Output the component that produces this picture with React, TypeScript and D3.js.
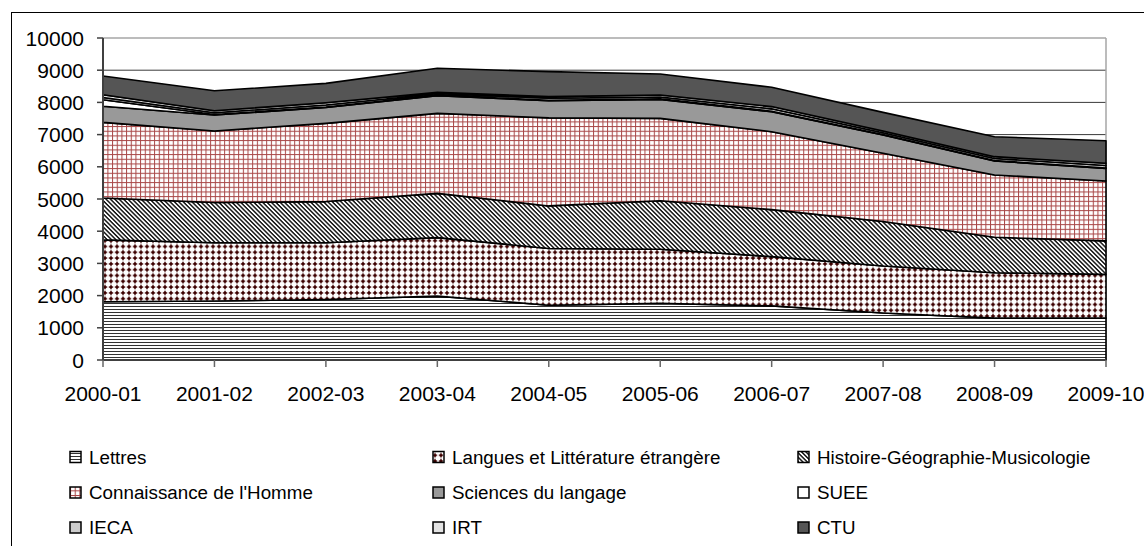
import React from "react";
import * as d3 from "d3";

const years = ["2000-01", "2001-02", "2002-03", "2003-04", "2004-05", "2005-06", "2006-07", "2007-08", "2008-09", "2009-10"];

const lettres = [1810, 1830, 1880, 1985, 1700, 1760, 1680, 1460, 1300, 1300];
const langues = [1920, 1810, 1760, 1815, 1765, 1680, 1530, 1460, 1410, 1360];
const histoire = [1300, 1250, 1280, 1375, 1320, 1505, 1460, 1380, 1100, 1040];
const connaissance = [2350, 2220, 2430, 2485, 2735, 2560, 2420, 2120, 1935, 1860];
const sciences = [500, 500, 490, 550, 530, 590, 620, 570, 435, 390];
const suee = [200, 15, 15, 15, 15, 15, 15, 15, 15, 15];
const ieca = [70, 55, 65, 45, 65, 60, 75, 55, 65, 75];
const irt = [90, 60, 70, 40, 50, 60, 70, 50, 55, 70];
const ctu = [580, 620, 600, 750, 775, 650, 600, 580, 620, 700];

const seriesNames = [
  "Lettres",
  "Langues et Littérature étrangère",
  "Histoire-Géographie-Musicologie",
  "Connaissance de l'Homme",
  "Sciences du langage",
  "SUEE",
  "IECA",
  "IRT",
  "CTU",
];
const seriesValues = [lettres, langues, histoire, connaissance, sciences, suee, ieca, irt, ctu];
const yTicks = [0, 1000, 2000, 3000, 4000, 5000, 6000, 7000, 8000, 9000, 10000];

const fills = [
  "url(#pLettres)",
  "url(#pLangues)",
  "url(#pHistoire)",
  "url(#pConn)",
  "#999999",
  "#ffffff",
  "#cccccc",
  "#e3e3e3",
  "#555555",
];

const FONT = "'Liberation Sans', Arial, Helvetica, sans-serif";

export default function App() {
  const W = 1144;
  const H = 546;
  const left = 103;
  const right = 1106;
  const top = 38;
  const bottom = 360;

  const x = d3.scalePoint<string>().domain(years).range([left, right]).padding(0);
  const y = d3.scaleLinear().domain([0, 10000]).range([bottom, top]);

  const rows = years.map((yr, i) => {
    const r: Record<string, number | string> = { year: yr };
    seriesNames.forEach((n, k) => (r[n] = seriesValues[k][i]));
    return r;
  });
  const stacked = d3.stack<any>().keys(seriesNames)(rows as any);
  const area = d3
    .area<any>()
    .x((d: any) => x(d.data.year) as number)
    .y0((d: any) => y(d[0]))
    .y1((d: any) => y(d[1]));

  const legendCols = [70, 433, 798];
  const legendRows = [457, 492.5, 527.5];

  return (
    <svg
      width={W}
      height={H}
      style={{ position: "absolute", left: 0, top: 0, background: "#fff" }}
      fontFamily={FONT}
    >
      <defs>
        <pattern id="pLettres" patternUnits="userSpaceOnUse" width={8} height={3}>
          <rect width={8} height={3} fill="#fff" />
          <rect y={0} width={8} height={1} fill="#333" />
        </pattern>
        <pattern id="pLangues" patternUnits="userSpaceOnUse" width={6} height={5.8}>
          <rect width={6} height={5.8} fill="#fff" />
          <path d="M3,0.9 L5,2.9 L3,4.9 L1,2.9 Z" fill="#3c0000" />
          <rect x={2.5} y={0.6} width={1} height={4.6} fill="#3c0000" />
          <rect x={0.7} y={2.4} width={4.6} height={1} fill="#3c0000" />
        </pattern>
        <pattern
          id="pHistoire"
          patternUnits="userSpaceOnUse"
          width={3.1}
          height={3.1}
          patternTransform="rotate(45)"
        >
          <rect width={3.1} height={3.1} fill="#fff" />
          <rect width={3.1} height={1.45} fill="#111" />
        </pattern>
        <pattern id="pConn" patternUnits="userSpaceOnUse" width={4.67} height={4.67}>
          <rect width={4.67} height={4.67} fill="#fff" />
          <rect x={0} y={0} width={4.67} height={1} fill="#a84646" />
          <rect x={0} y={0} width={1} height={4.67} fill="#a84646" />
        </pattern>
      </defs>

      {/* outer frame */}
      <rect x={11.5} y={12.5} width={1200} height={600} fill="#fff" stroke="#000" strokeWidth={1} />

      {/* gridlines */}
      {yTicks
        .filter((t) => t > 0 && t < 10000)
        .map((t) => (
          <line key={t} x1={left} x2={right} y1={y(t)} y2={y(t)} stroke="#3a3a3a" strokeWidth={1} />
        ))}
      {/* plot border (top and right) */}
      <line x1={left} x2={right} y1={y(10000)} y2={y(10000)} stroke="#a6a6a6" strokeWidth={1.5} />
      <line x1={right} x2={right} y1={top} y2={bottom} stroke="#a6a6a6" strokeWidth={1.5} />

      {/* areas */}
      {stacked.map((s, k) => (
        <path
          key={seriesNames[k]}
          d={area(s as any) as string}
          fill={fills[k]}
          stroke="#000"
          strokeWidth={1.6}
          strokeLinejoin="round"
        />
      ))}

      {/* y axis */}
      <line x1={left} x2={left} y1={top} y2={bottom} stroke="#404040" strokeWidth={2} />
      {yTicks.map((t) => (
        <g key={t}>
          <line x1={left - 6} x2={left} y1={y(t)} y2={y(t)} stroke="#404040" strokeWidth={1.5} />
          <text x={84} y={y(t)} dy="0.36em" textAnchor="end" fontSize={21} fill="#000">
            {t}
          </text>
        </g>
      ))}

      {/* x axis */}
      <line x1={left} x2={right} y1={bottom} y2={bottom} stroke="#404040" strokeWidth={2} />
      {years.map((yr) => (
        <g key={yr}>
          <line
            x1={x(yr) as number}
            x2={x(yr) as number}
            y1={bottom}
            y2={bottom + 7}
            stroke="#666"
            strokeWidth={1.5}
          />
          <text x={x(yr) as number} y={401} textAnchor="middle" fontSize={21} fill="#000">
            {yr}
          </text>
        </g>
      ))}

      {/* legend */}
      {seriesNames.map((n, k) => {
        const cx = legendCols[k % 3];
        const cy = legendRows[Math.floor(k / 3)];
        return (
          <g key={n}>
            <rect x={cx} y={cy - 5.5} width={11} height={11} fill={fills[k]} stroke="#000" strokeWidth={1.5} />
            <text x={cx + 19} y={cy} dy="0.35em" fontSize={18.8} fill="#000">
              {n}
            </text>
          </g>
        );
      })}
    </svg>
  );
}
